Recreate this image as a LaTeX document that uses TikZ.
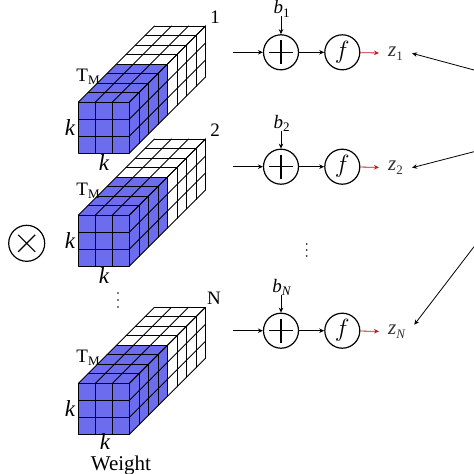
\documentclass[tikz,border=0pt]{standalone}
\usepackage{fontspec}
\setmainfont{Liberation Serif}
\usetikzlibrary{arrows.meta}
\definecolor{wblue}{RGB}{108,108,238}
\definecolor{zred}{RGB}{200,20,20}
\definecolor{zgray}{RGB}{50,50,50}
\newcommand\subx[1]{\raisebox{-0.4ex}{\fontsize{13}{13}\selectfont #1}}
% cuboid: #1 = x0, #2 = y0 (front face top-left)
\newcommand\wcube[2]{%
  \def\s{17}\def\d{9.5}%
  % top face
  \fill[wblue] (#1,#2) -- ++(3*\s,0) -- ++(4*\d,-4*\d) -- ++(-3*\s,0) -- cycle;
  \fill[white] (#1+4*\d,#2-4*\d) -- ++(3*\s,0) -- ++(4*\d,-4*\d) -- ++(-3*\s,0) -- cycle;
  % right face
  \fill[wblue] (#1+3*\s,#2) -- ++(0,3*\s) -- ++(4*\d,-4*\d) -- ++(0,-3*\s) -- cycle;
  \fill[white] (#1+3*\s+4*\d,#2-4*\d) -- ++(0,3*\s) -- ++(4*\d,-4*\d) -- ++(0,-3*\s) -- cycle;
  % front face
  \fill[wblue] (#1,#2) rectangle ++(3*\s,3*\s);
  \foreach \j in {0,...,3}{
    \draw[grid] (#1+\j*\s,#2) -- ++(0,3*\s);
    \draw[grid] (#1,#2+\j*\s) -- ++(3*\s,0);
    \draw[grid] (#1+\j*\s,#2) -- ++(8*\d,-8*\d);
    \draw[grid] (#1+3*\s,#2+\j*\s) -- ++(8*\d,-8*\d);
  }
  \foreach \i in {1,...,8}{
    \draw[grid] (#1+\i*\d,#2-\i*\d) -- ++(3*\s,0);
    \draw[grid] (#1+3*\s+\i*\d,#2-\i*\d) -- ++(0,3*\s);
  }
}
\tikzset{
  grid/.style={line width=0.8pt, line join=round, line cap=round},
  op/.style={circle, draw, line width=1.2pt, minimum size=35pt, inner sep=0pt},
  lab/.style={inner sep=0pt, font=\fontsize{19}{19}\selectfont},
  klab/.style={inner sep=0pt, font=\fontsize{23}{23}\selectfont\itshape},
  zlab/.style={inner xsep=9pt, inner ysep=0pt, text=zgray, font=\fontsize{21}{21}\selectfont},
  arr/.style={-{Stealth[length=5pt,width=4.5pt]}, line width=0.8pt},
  rarr/.style={arr, zred},
}
\begin{document}
\begin{tikzpicture}[x=1pt,y=-1pt]
\useasboundingbox (0,0) rectangle (474,474);

% cuboids
\wcube{78.5}{102}
\wcube{78.5}{215}
\wcube{78.5}{383.3}

% cuboid labels
\node[lab] (n1) at (215,17) {1};
\node[lab] (n2) at (215,130) {2};
\node[lab] (nN) at (214,298) {N};
\node[lab] (tm1) at (88,77) {T\subx{M}};
\node[lab] (tm2) at (88,191) {T\subx{M}};
\node[lab] (tm3) at (88,358) {T\subx{M}};
\node[klab] (kl1) at (70,128) {k};
\node[klab] (kb1) at (104,163) {k};
\node[klab] (kl2) at (70,241) {k};
\node[klab] (kb2) at (104,276) {k};
\node[klab] (kl3) at (70,409) {k};
\node[klab] (kb3) at (105,442) {k};
\node[inner sep=0pt, font=\fontsize{21}{21}\selectfont] (wt) at (121,465) {Weight};

% dots between cuboids
\foreach \yy in {293,300,307} \fill (118,\yy) circle (0.9);

% otimes
\node[op, minimum size=36pt] (ot) at (26.7,243.3) {};
\draw[line width=1.1pt] (ot.center) ++(-8.5,-8.5) -- ++(17,17);
\draw[line width=1.1pt] (ot.center) ++(-8.5,8.5) -- ++(17,-17);

% rows
\foreach \r/\cy/\bs in {1/52.3/1, 2/166.7/2, 3/330.7/{\itshape N}}{
  \node[op] (p\r) at (281,\cy) {};
  \draw[line width=1.1pt] (p\r.center) ++(-12,0) -- ++(24,0);
  \draw[line width=1.1pt] (p\r.center) ++(0,-12) -- ++(0,24);
  \node[op] (f\r) at (342.3,\cy) {\fontsize{30}{30}\selectfont$f$};
  \node[lab] (b\r) at (281.5,\cy-43.5) {\textit{b}\subx{\bs}};
  \coordinate (bt\r) at (281,\cy-36);
  \coordinate (in\r) at (233,\cy);
  \node[zlab, anchor=west] (z\r) at (379,\cy+1) {\textit{z}\subx{\bs}};
  \draw[arr] (bt\r) -- (p\r);
  \draw[arr] (in\r) -- (p\r);
  \draw[arr] (p\r) -- (f\r);
  \draw[rarr] (f\r) -- (z\r);
}

% vertical dots between rows
\foreach \yy in {244,250,256} \fill (306.7,\yy) circle (0.9);

% arrows from the right
\coordinate (e1) at (474,70);
\coordinate (e2) at (474,151.7);
\coordinate (e3) at (474,246.7);
\draw[arr] (e1) -- (z1.east);
\draw[arr] (e2) -- (z2.east);
\draw[arr] (e3) -- (z3.north east);
\end{tikzpicture}
\end{document}
